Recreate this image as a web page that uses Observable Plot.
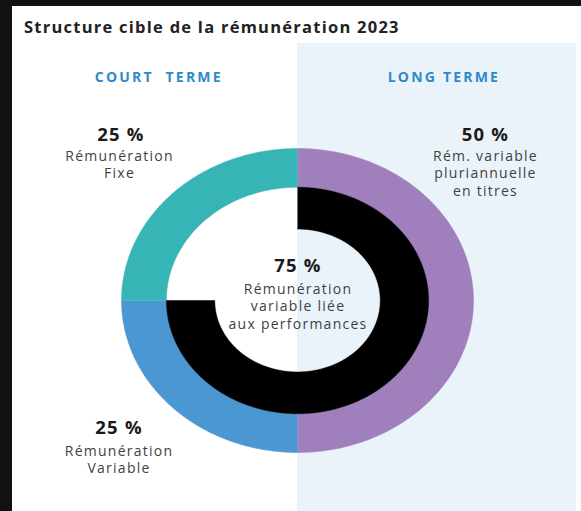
<!DOCTYPE html>
<html><head><meta charset="utf-8">
<script src="https://cdn.jsdelivr.net/npm/d3@7"></script>
<script src="https://cdn.jsdelivr.net/npm/@observablehq/plot@0.6"></script>
<style>
html,body{margin:0;padding:0;background:#111;}
#page{position:absolute;left:12px;top:6px;width:569px;height:505px;background:#fff;overflow:hidden;}
#panel{position:absolute;left:285px;top:37px;width:279px;height:468px;background:#ebf3fa;}
#title{position:absolute;left:12px;top:9px;font:700 16.5px "Open Sans",sans-serif;letter-spacing:1.25px;color:#222;white-space:nowrap;}
#chart{position:absolute;left:-12px;top:-6px;}
</style></head>
<body>
<div id="page"><div id="panel"></div><div id="title">Structure cible de la rémunération 2023</div><div id="chart"></div></div>
<script>
// ---- data ----
const outerCategories = ["Rém. variable pluriannuelle en titres", "Rémunération Variable", "Rémunération Fixe"];
const outerValues = [50, 25, 25];
const outerColors = ["#9f80bc", "#4b97d2", "#37b5b6"];
const innerCategories = ["Rémunération variable liée aux performances", "reste"];
const innerValues = [75, 25];
const innerColors = ["#000000", "none"];
const percentLabels = ["50 %", "25 %", "25 %", "75 %"];
const descLabels = ["Rém. variable\npluriannuelle\nen titres", "Rémunération\nVariable", "Rémunération\nFixe", "Rémunération\nvariable liée\naux performances"];
const horizonLabels = ["COURT  TERME", "LONG TERME"];

// ---- geometry from values ----
function ring(cats, vals, r0, r1) {
  const total = d3.sum(vals);
  const pts = [];
  let cum = 0;
  cats.forEach((c, i) => {
    const a0 = cum / total * 2 * Math.PI, a1 = (cum + vals[i]) / total * 2 * Math.PI;
    cum += vals[i];
    const n = Math.max(8, Math.round((a1 - a0) / 0.01));
    for (let j = 0; j <= n; j++) { const a = a0 + (a1 - a0) * j / n; pts.push({k: c, x: r1 * Math.sin(a), y: r1 * Math.cos(a)}); }
    for (let j = n; j >= 0; j--) { const a = a0 + (a1 - a0) * j / n; pts.push({k: c, x: r0 * Math.sin(a), y: r0 * Math.cos(a)}); }
  });
  return pts;
}
const outerPts = ring(outerCategories, outerValues, 0.745, 1);
const innerPts = ring(innerCategories, innerValues, 0.47, 0.745).filter(d => d.k !== "reste");

// label layout (data units)
const pctPos = [[1.068, 1.087], [-1.014, -0.841], [-1.003, 1.087], [0.003, 0.225]];
const descPos = [[1.068, 0.995], [-1.014, -0.945], [-1.011, 0.995], [0.003, 0.120]];
const pct = percentLabels.map((t, i) => ({t, x: pctPos[i][0], y: pctPos[i][1]}));
const desc = descLabels.map((t, i) => ({t, x: descPos[i][0], y: descPos[i][1]}));
const hor = horizonLabels.map((t, i) => ({t, x: i ? 0.832 : -0.788, y: 1.468}));

const font = "'Open Sans', sans-serif";
const chart = Plot.plot({
  width: 581, height: 511,
  marginLeft: 121, marginRight: 108, marginTop: 148, marginBottom: 59,
  x: {domain: [-1, 1], axis: null},
  y: {domain: [-1, 1], axis: null},
  color: {domain: [...outerCategories, ...innerCategories], range: [...outerColors, ...innerColors]},
  style: {background: "transparent", fontFamily: font},
  marks: [
    Plot.line(outerPts, {x: "x", y: "y", z: "k", fill: "k", stroke: "k", strokeWidth: 0.5, curve: "linear"}),
    Plot.line(innerPts, {x: "x", y: "y", z: "k", fill: "k", stroke: "k", strokeWidth: 0.5, curve: "linear"}),
    Plot.text(pct, {x: "x", y: "y", text: "t", fontSize: 18.5, fontWeight: 700, fill: "#1a1a1a", lineAnchor: "middle"}),
    Plot.text(desc, {x: "x", y: "y", text: "t", fontSize: 14, fill: "#3f3f3f", lineAnchor: "top", lineHeight: 1.22}),
    Plot.text(hor, {x: "x", y: "y", text: "t", fontSize: 14, fontWeight: 700, fill: "#2d8bc9", lineAnchor: "middle"})
  ]
});
d3.select(chart).selectAll("g[font-size='14']").each(function(){ d3.select(this).style("letter-spacing", this.getAttribute("font-weight") === "700" ? "2.2px" : "1.25px"); });
d3.select(chart).selectAll("g[font-size='18.5']").style("letter-spacing", "1.2px");
document.getElementById("chart").appendChild(chart);
</script>
</body></html>
